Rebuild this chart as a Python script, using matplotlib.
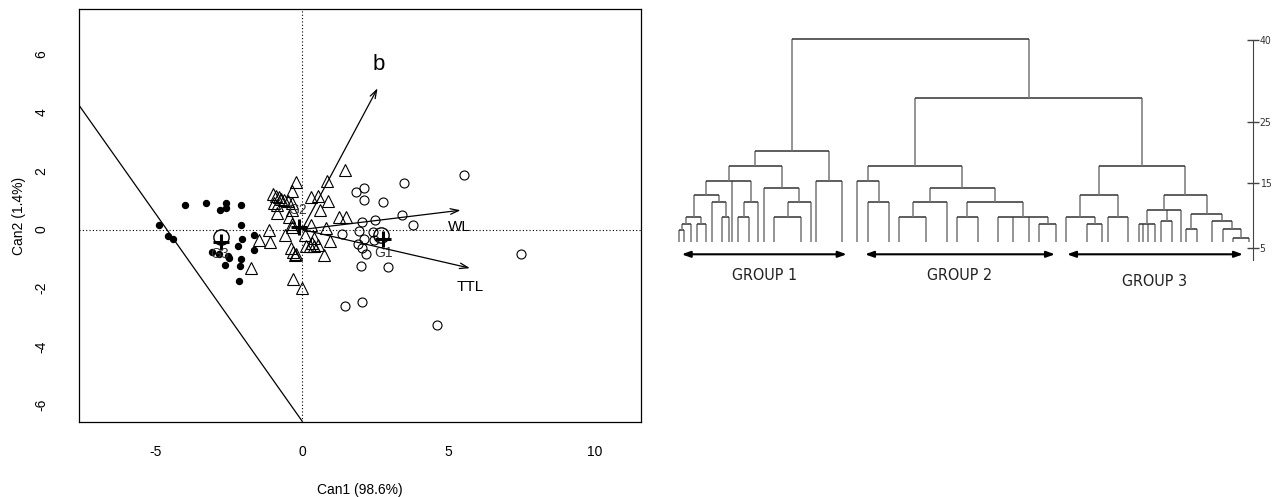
import numpy as np
import matplotlib.pyplot as plt

plt.rcParams['font.family'] = ['Liberation Sans', 'DejaVu Sans']
plt.rcParams['axes.unicode_minus'] = False

# ---- canonical discriminant scores ----
# group 1 (open circles)
g1_x = [5.55, 3.50, 1.85, 2.12, 2.12, 2.77, 3.42, 3.80, 2.50, 2.06, 1.37, 1.96,
        2.41, 2.10, 2.46, 1.90, 2.05, 2.20, 2.03, 2.94, 7.50, 1.48, 2.06, 4.62]
g1_y = [1.87, 1.58, 1.30, 1.42, 1.00, 0.93, 0.50, 0.16, 0.32, 0.27, -0.15, -0.06,
        -0.08, -0.34, -0.35, -0.48, -0.64, -0.84, -1.25, -1.29, -0.84, -2.61, -2.49, -3.25]
# group 2 (triangles)
g2_x = [1.45, -0.22, 0.84, -0.36, 0.30, 0.55, 0.90, 0.60, -1.00, -0.90, -0.80, -0.72,
        -0.62, -0.95, -0.85, -0.36, -0.47, -0.34, -0.85, -0.44, -0.34, 1.25, 1.50, 0.30,
        0.82, -1.12, -0.33, -1.47, -1.10, -0.58, -0.38, -0.22, -0.25, 0.35, 0.10, 0.42,
        0.15, 0.28, 0.40, 0.55, 0.96, 0.75, -1.75, -0.30, -0.02, -0.30]
g2_y = [2.05, 1.63, 1.65, 1.33, 1.10, 1.16, 0.98, 0.66, 1.20, 1.15, 1.10, 1.05,
        1.00, 0.90, 0.85, 0.92, 0.98, 0.68, 0.57, 0.42, 0.18, 0.42, 0.42, 0.15,
        0.04, 0.00, 0.10, -0.36, -0.42, -0.20, -0.62, -0.82, -0.88, -0.45, -0.18, -0.30,
        -0.56, -0.56, -0.56, -0.54, -0.38, -0.88, -1.33, -1.68, -2.00, -0.78]
# group 3 (filled dots)
g3_x = [-3.99, -3.29, -2.59, -2.59, -2.81, -2.10, -4.88, -4.60, -4.40, -2.10, -1.63,
        -2.04, -2.20, -1.63, -3.08, -2.84, -2.55, -2.50, -2.10, -2.14, -2.65, -2.17]
g3_y = [0.85, 0.91, 0.91, 0.73, 0.68, 0.85, 0.15, -0.22, -0.31, 0.15, -0.18,
        -0.34, -0.57, -0.69, -0.76, -0.84, -0.92, -0.97, -1.01, -1.24, -1.20, -1.75]

# group centroids
cen_names = ['G1', 'G2', 'G3']
cen_x = [2.77, -0.12, -2.77]
cen_y = [-0.34, 0.08, -0.41]
circ_x = [2.71, -2.77]
circ_y = [-0.17, -0.27]
cen_lab_x = [2.80, -0.15, -2.83]
cen_lab_y = [-0.79, 0.67, -0.84]

# structure vectors
var_names = ['b', 'WL', 'TTL']
var_x = [2.58, 5.42, 5.74]
var_y = [4.83, 0.66, -1.32]
var_lab_x = [2.63, 5.39, 5.74]
var_lab_y = [5.65, 0.10, -1.95]
var_size = [16, 11, 11]

# boundary line
bound_x = [-7.63, 0.0]
bound_y = [4.25, -6.55]

# ---- dendrogram (leaf positions, merge heights) ----
leaf_base = 5.9
grp1 = (20.3, [
    (17.8, [
        (15.4, [
            (13.1, [
                (9.8, [(8.65, [(7.77, [679, 684]), 690.7]), (8.65, [696.7, 706])]),
                (12.1, [711.7, (9.8, [722.3, 729.3])]),
            ]),
            732,
            (12.1, [(9.8, [738.3, 749]), 758.3]),
        ]),
        (14.3, [764.3, (12.1, [(9.8, [774.3, 800.7]), 810.7])]),
    ]),
    (15.4, [816, 842.3]),
])
grp2 = (17.8, [
    (15.4, [857.3, (12.1, [868.3, 889.3])]),
    (14.3, [
        (12.1, [(9.8, [899.3, 925.7]), 946.7]),
        (12.1, [(9.8, [956.7, 977.7]),
                (9.8, [998.3, 1013.3, 1029.3, (8.65, [1039.3, 1056])])]),
    ]),
])
grp3 = (17.8, [
    (13.1, [(9.8, [1066, (8.65, [1086.7, 1102.3])]), (9.8, [1108.3, 1128.3])]),
    (13.1, [
        (10.85, [(8.65, [1139, 1143.3, 1148.3, 1155]), (9.2, [1161, 1172]), 1180.7]),
        (10.2, [(8.0, [1186, 1196.7]),
                (9.1, [1211.7, (8.0, [1222.7, (6.54, [1232.7, 1249.3])])])]),
    ]),
])
tree = (40.2, [grp1, (29.3, [grp2, grp3])])

group_names = ['GROUP 1', 'GROUP 2', 'GROUP 3']
group_lo = [681.7, 865, 1067]
group_hi = [846.7, 1055, 1243]
height_ticks = [5, 15, 25, 40]

fig = plt.figure(figsize=(12.8, 4.97), dpi=100)

# ================= left: canonical plot =================
ax = fig.add_axes([79 / 1280, 1 - 421.7 / 497, 562 / 1280, 412.4 / 497])
ax.set_xlim(-7.63, 11.59)
ax.set_ylim(-6.57, 7.53)
ax.axhline(0, color='black', lw=0.8, ls=(0, (1, 2)))
ax.axvline(0, color='black', lw=0.8, ls=(0, (1, 2)))
ax.plot(bound_x, bound_y, color='black', lw=0.9)

ax.plot(g1_x, g1_y, 'o', ms=6.5, mfc='none', mec='black', mew=0.8)
ax.plot(g2_x, g2_y, '^', ms=9, mfc='none', mec='black', mew=0.8)
ax.plot(g3_x, g3_y, 'o', ms=4.3, mfc='black', mec='black')

ax.plot(circ_x, circ_y, 'o', ms=11, mfc='none', mec='black', mew=1.0)
ax.plot(cen_x, cen_y, '+', ms=12, mec='black', mew=2.2)
for n, x, y in zip(cen_names, cen_lab_x, cen_lab_y):
    ax.text(x, y, n, ha='center', va='center', fontsize=10, color='#333333')

for n, x, y, lx, ly, fs in zip(var_names, var_x, var_y, var_lab_x, var_lab_y, var_size):
    ax.annotate('', xy=(x, y), xytext=(0, 0),
                arrowprops=dict(arrowstyle='->,head_length=0.6,head_width=0.2',
                                color='black', lw=0.9, shrinkA=0, shrinkB=0))
    ax.text(lx, ly, n, ha='center', va='center', fontsize=fs)

ax.set_xticks([-5, 0, 5, 10])
ax.set_yticks([-6, -4, -2, 0, 2, 4, 6])
ax.tick_params(axis='x', length=0, pad=17, labelsize=10)
ax.tick_params(axis='y', length=0, pad=22, labelsize=10)
for lab in ax.get_yticklabels():
    lab.set_rotation(90)
    lab.set_va('center')
ax.set_xlabel('Can1 (98.6%)', fontsize=10)
ax.set_ylabel('Can2 (1.4%)', fontsize=10)
ax.xaxis.set_label_coords(0.5, -0.165)
ax.xaxis.label.set_va('center')
ax.yaxis.set_label_coords(-0.107, 0.5)
ax.yaxis.label.set_va('center')
for s in ax.spines.values():
    s.set_linewidth(0.9)

# ================= right: dendrogram =================
tick_pix = [248.0, 183.0, 122.0, 40.0]


def to_pix(v):
    v = np.asarray(v, dtype=float)
    p = np.interp(v, height_ticks, tick_pix)
    p = np.where(v < 5, 248 + (5 - v) * 6.5, p)
    p = np.where(v > 40, 40 - (v - 40) * 5.47, p)
    return -p


def from_pix(q):
    p = -np.asarray(q, dtype=float)
    v = np.interp(p, tick_pix[::-1], height_ticks[::-1])
    v = np.where(p > 248, 5 - (p - 248) / 6.5, v)
    v = np.where(p < 40, 40 + (40 - p) / 5.47, v)
    return v


ax2 = fig.add_axes([660 / 1280, 0, 620 / 1280, 1])
ax2.set_yscale('function', functions=(to_pix, from_pix))
ax2.set_xlim(660, 1280)
ax2.set_ylim(float(from_pix(-497)), float(from_pix(0)))


def draw(node):
    if not isinstance(node, tuple):
        return node, leaf_base
    h, kids = node
    xs = []
    for k in kids:
        kx, kh = draw(k)
        ax2.plot([kx, kx], [kh, h], color='#777777', lw=1.1, solid_capstyle='butt')
        xs.append(kx)
    ax2.plot([min(xs), max(xs)], [h, h], color='#333333', lw=1.1, solid_capstyle='butt')
    return (xs[0] + xs[-1]) / 2, h


draw(tree)

narrow = dict(family='DejaVu Sans', fontstretch='condensed')
arrow_y = float(from_pix(-254.3))
lab_y = [float(from_pix(-276)), float(from_pix(-275)), float(from_pix(-282))]
for n, lo, hi, ly in zip(group_names, group_lo, group_hi, lab_y):
    ax2.annotate('', xy=(hi, arrow_y), xytext=(lo, arrow_y),
                 arrowprops=dict(arrowstyle='<|-|>,head_length=0.5,head_width=0.18',
                                 color='black', lw=1.5, shrinkA=0, shrinkB=0))
    ax2.text((lo + hi) / 2, ly, n, ha='center', va='center', fontsize=11.5,
             color='#222222', **narrow)

for side in ['top', 'left', 'bottom']:
    ax2.spines[side].set_visible(False)
ax2.spines['right'].set_position(('data', 1252.7))
ax2.spines['right'].set_bounds(float(from_pix(-260)), 40)
ax2.spines['right'].set_color('#444444')
ax2.set_xticks([])
ax2.yaxis.tick_right()
ax2.set_yticks(height_ticks)
ax2.set_yticklabels([str(t) for t in height_ticks])
ax2.yaxis.set_minor_locator(plt.NullLocator())
ax2.tick_params(axis='y', direction='inout', length=8, width=1, color='#444444',
                labelsize=7.5, labelcolor='#333333', pad=1)
for lab in ax2.get_yticklabels():
    lab.set_family('DejaVu Sans')
    lab.set_fontstretch('condensed')
ax2.patch.set_visible(False)

fig.savefig('out.png', dpi=100)
